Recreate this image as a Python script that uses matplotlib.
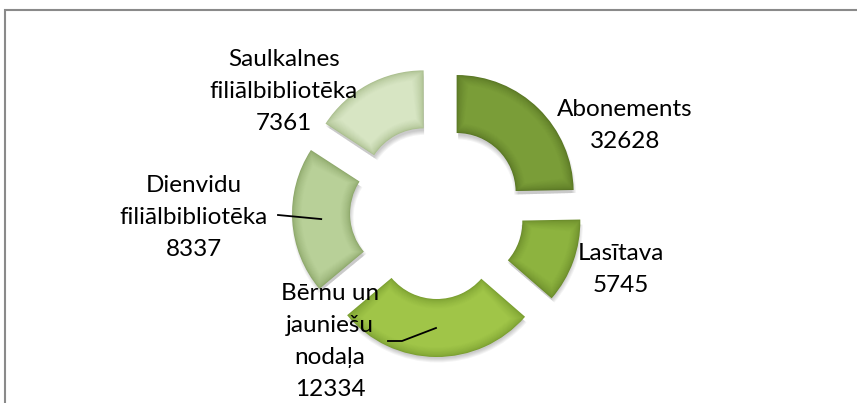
import numpy as np
import matplotlib
matplotlib.use('Agg')
import matplotlib.pyplot as plt
from matplotlib.patches import Wedge
from matplotlib.colors import to_rgb

plt.rcParams['font.family'] = ['Lato', 'DejaVu Sans']

# data
labels = ['Abonements', 'Lasītava', 'Bērnu un jauniešu nodaļa',
          'Dienvidu filiālbibliotēka', 'Saulkalnes filiālbibliotēka']
counts = [32628, 5745, 12334, 8337, 7361]
# slice sizes as drawn in the picture (degrees of the ring)
slice_deg = [89, 42, 99, 73, 57]
label_lines = [['Abonements'], ['Lasītava'], ['Bērnu un', 'jauniešu', 'nodaļa'],
               ['Dienvidu', 'filiālbibliotēka'], ['Saulkalnes', 'filiālbibliotēka']]

main_cols = ['#7a9d38', '#8db33f', '#a0c548', '#b8d098', '#d7e5c3']
edge_cols = ['#5a7725', '#6b8c2b', '#7b9f31', '#8ea86b', '#abbf8f']

W, H = 857, 403
fig = plt.figure(figsize=(W / 100, H / 100), dpi=100)
ax = fig.add_axes([0, 0, 1, 1])

R = 117
cx, cy = 437, H - 212
wedges, _ = ax.pie(slice_deg, radius=R, center=(cx, cy), startangle=90,
                   counterclock=False, explode=[28] * 5,
                   colors=main_cols, wedgeprops=dict(width=58, linewidth=0))

def mix(c1, c2, t):
    a, b = np.array(to_rgb(c1)), np.array(to_rgb(c2))
    return tuple(a + (b - a) * t)

for i, w in enumerate(wedges):
    x0, y0 = w.center
    t1, t2 = w.theta1, w.theta2
    r_out, width = w.r, w.width
    r_mid = r_out - width / 2
    w.set_facecolor(edge_cols[i])
    w.set_zorder(2)
    # soft shadow
    for k in range(5):
        sh = Wedge((x0 + 1, y0 - 4), r_out + 1.5 - k, t1 + 0.5, t2 - 0.5,
                   width=width, facecolor='black', alpha=0.045,
                   linewidth=0, zorder=1)
        ax.add_patch(sh)
    # bevel: inset layers getting lighter towards the middle
    steps = 12
    for k in range(1, steps + 1):
        d = k * 0.8
        dt = np.degrees(d / r_mid)
        t = (k / steps) ** 0.6
        col = mix(edge_cols[i], main_cols[i], t)
        ax.add_patch(Wedge((x0, y0), r_out - d, t1 + dt, t2 - dt,
                           width=width - 2 * d, facecolor=col,
                           linewidth=0, zorder=3))

# label blocks (centre positions in pixels)
label_xy = [(625, 125), (621, 269), (330, 342), (194, 217), (284, 91)]
step = 32
for i in range(len(labels)):
    lines = label_lines[i] + [str(counts[i])]
    lx, ly = label_xy[i]
    n = len(lines)
    for j, s in enumerate(lines):
        yy = ly + (j - (n - 1) / 2) * step
        ax.text(lx, H - yy, s, ha='center', va='center', fontsize=17.5,
                color='black', zorder=6)

# leader lines to the middle of the slice
def slice_mid(w):
    x0, y0 = w.center
    th = np.radians((w.theta1 + w.theta2) / 2)
    rm = w.r - w.width / 2
    return x0 + rm * np.cos(th), y0 + rm * np.sin(th)

px, py = slice_mid(wedges[3])
ax.plot([278, px], [H - 215, py], color='black', lw=1.3, zorder=7)
px, py = slice_mid(wedges[2])
ax.plot([388, 402, px], [H - 341, H - 341, py], color='black', lw=1.3, zorder=7)

# chart border
ax.plot([5, 5, W + 5], [-5, H - 10, H - 10], color='#8a8a8a', lw=1.5,
        zorder=8, solid_joinstyle='miter')

ax.set_xlim(0, W)
ax.set_ylim(0, H)
ax.set_aspect('equal')
ax.axis('off')

fig.savefig('out.png', dpi=100, facecolor='white')
